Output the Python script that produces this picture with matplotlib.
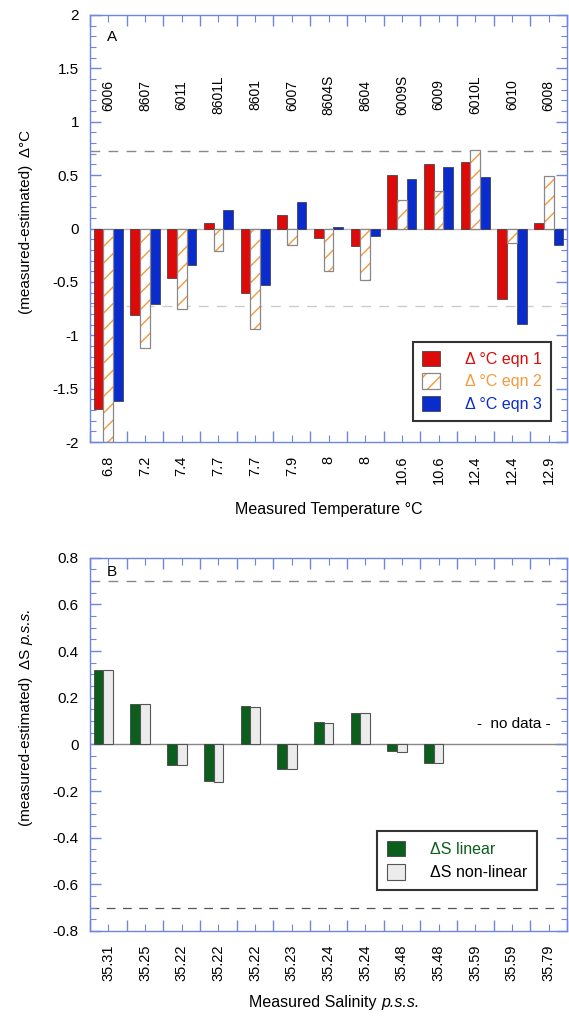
import numpy as np
import matplotlib
matplotlib.use("Agg")
import matplotlib.pyplot as plt
from matplotlib.ticker import MultipleLocator, FixedLocator, NullFormatter, FuncFormatter

plt.rcParams["font.family"] = ["Liberation Sans", "DejaVu Sans"]
plt.rcParams["hatch.linewidth"] = 1.0

# panel A data
stations = ["6006", "8607", "6011", "8601L", "8601", "6007", "8604S", "8604",
            "6009S", "6009", "6010L", "6010", "6008"]
temps = ["6.8", "7.2", "7.4", "7.7", "7.7", "7.9", "8", "8",
         "10.6", "10.6", "12.4", "12.4", "12.9"]
eqn1 = [-1.69, -0.81, -0.46, 0.05, -0.60, 0.125, -0.085, -0.16,
        0.50, 0.60, 0.625, -0.66, 0.055]
eqn2 = [-2.0, -1.115, -0.75, -0.21, -0.94, -0.155, -0.40, -0.485,
        0.265, 0.35, 0.74, -0.14, 0.49]
eqn3 = [-1.62, -0.71, -0.34, 0.17, -0.525, 0.25, 0.015, -0.07,
        0.46, 0.58, 0.485, -0.89, -0.155]

# panel B data
salinity = ["35.31", "35.25", "35.22", "35.22", "35.22", "35.23", "35.24",
            "35.24", "35.48", "35.48", "35.59", "35.59", "35.79"]
ds_linear = [0.32, 0.173, -0.09, -0.156, 0.164, -0.107, 0.094, 0.136,
             -0.027, -0.079, np.nan, np.nan, np.nan]
ds_nonlin = [0.32, 0.171, -0.09, -0.16, 0.161, -0.107, 0.091, 0.133,
             -0.032, -0.079, np.nan, np.nan, np.nan]

spine_col = "#6f86e0"
red = "#dd0a0a"
orange = "#f39a3c"
blue = "#0a2ccc"
green = "#0b5e1c"
lgray = "#ececec"

W, H = 569, 1019
fig = plt.figure(figsize=(W / 100, H / 100), dpi=100)

x = np.arange(len(stations)) + 0.5
bw = 0.265

# plain numbers like the original: 2, 1.5, -0.5
fmt = FuncFormatter(lambda v, pos: "%g" % round(v, 3) if abs(v) > 1e-9 else "0")


def style_axes(ax, ymaj, ymin):
    ax.set_xlim(0, len(stations))
    for s in ax.spines.values():
        s.set_color(spine_col)
        s.set_linewidth(1.0)
    ax.xaxis.set_major_locator(FixedLocator(np.arange(0, len(stations) + 1)))
    ax.xaxis.set_minor_locator(FixedLocator(x))
    ax.xaxis.set_major_formatter(NullFormatter())
    ax.yaxis.set_major_locator(MultipleLocator(ymaj))
    ax.yaxis.set_minor_locator(MultipleLocator(ymin))
    ax.yaxis.set_major_formatter(fmt)
    ax.tick_params(which="both", direction="in", top=True, right=True,
                   color=spine_col, labelsize=11)
    ax.tick_params(which="major", length=8, width=1)
    ax.tick_params(which="minor", length=4, width=0.8)
    ax.tick_params(axis="x", which="minor", length=5, labelsize=10.5,
                   labelrotation=90, pad=10)
    ax.tick_params(axis="y", pad=8)


# ---- panel A
ax1 = fig.add_axes([90 / W, (H - 442) / H, 477 / W, 427 / H])
ax1.set_ylim(-2, 2)
style_axes(ax1, 0.5, 0.1)
ax1.axhline(0, color="#bbbbbb", lw=1, zorder=1)
ax1.axhline(0.73, color="#888888", lw=1, ls=(0, (7, 6)), zorder=1)
ax1.axhline(-0.73, color="#cccccc", lw=1, ls=(0, (7, 6)), zorder=1)

b1 = ax1.bar(x - bw, eqn1, bw, color=red, edgecolor="#333333", lw=0.5, zorder=2)
b2h = ax1.bar(x, eqn2, bw, facecolor="white", edgecolor=orange, hatch="//",
              lw=0, zorder=2)
b2e = ax1.bar(x, eqn2, bw, fill=False, edgecolor="#888888", lw=0.9, zorder=3)
b3 = ax1.bar(x + bw, eqn3, bw, color=blue, edgecolor="#333333", lw=0.5, zorder=2)

ax1.set_xticks(x, minor=True)
ax1.set_xticklabels(temps, minor=True)
for xi, s in zip(x, stations):
    ax1.text(xi, 1.25, s, rotation=90, ha="center", va="center", fontsize=10)
ax1.text(0.45, 1.79, "A", fontsize=11, ha="left", va="center")

fig.text(26 / W, 1 - 222 / H, "(measured-estimated)  \u0394\u00b0C", fontsize=11,
         rotation=90, ha="center", va="center")
ax1.set_xlabel("Measured Temperature \u00b0C", fontsize=11.5, labelpad=13)

leg1 = ax1.legend([b1, (b2h, b2e), b3],
                  ["\u0394 \u00b0C eqn 1", "\u0394 \u00b0C eqn 2", "\u0394 \u00b0C eqn 3"],
                  loc="lower right", bbox_to_anchor=(0.966, 0.05), fontsize=11.5,
                  labelcolor=[red, orange, blue], frameon=True, fancybox=False,
                  handlelength=1.1, handleheight=1.1, handletextpad=1.6,
                  borderpad=0.55, labelspacing=0.4, borderaxespad=0)
leg1.get_frame().set_edgecolor("black")
leg1.get_frame().set_linewidth(1.5)

# ---- panel B
ax2 = fig.add_axes([90 / W, (H - 931) / H, 477 / W, 373.3 / H])
ax2.set_ylim(-0.8, 0.8)
style_axes(ax2, 0.2, 0.05)
ax2.axhline(0, color="#888888", lw=1, zorder=1)
ax2.axhline(0.7, color="#888888", lw=1, ls=(0, (7, 6)), zorder=1)
ax2.axhline(-0.7, color="#555555", lw=0.9, ls=(0, (7, 6)), zorder=1)

g1 = ax2.bar(x - bw, ds_linear, bw, color=green, edgecolor="#444444", lw=0.6, zorder=2)
g2 = ax2.bar(x, ds_nonlin, bw, color=lgray, edgecolor="#555555", lw=0.8, zorder=2)

ax2.set_xticks(x, minor=True)
ax2.set_xticklabels(salinity, minor=True)
ax2.text(0.45, 0.74, "B", fontsize=11, ha="left", va="center")
ax2.text(11.55, 0.086, "-  no data -", fontsize=11, ha="center", va="center")

# labels with an italic unit part, built from two texts
fig.text(26 / W, 1 - 645 / H, "(measured-estimated)  \u0394S ", fontsize=11,
         rotation=90, ha="center", va="top")
fig.text(26 / W, 1 - 645 / H, "p.s.s.", fontsize=11, fontstyle="italic",
         rotation=90, ha="center", va="bottom")
fig.text(381 / W, 1 - 1003 / H, "Measured Salinity ", fontsize=11.5,
         ha="right", va="center")
fig.text(381 / W, 1 - 1003 / H, "p.s.s.", fontsize=11.5, fontstyle="italic",
         ha="left", va="center")

leg2 = ax2.legend([g1, g2], ["\u0394S linear", "\u0394S non-linear"],
                  loc="lower right", bbox_to_anchor=(0.937, 0.11), fontsize=11.5,
                  labelcolor=[green, "black"], frameon=True, fancybox=False,
                  handlelength=1.1, handleheight=1.1, handletextpad=1.6,
                  borderpad=0.6, labelspacing=0.45, borderaxespad=0)
leg2.get_frame().set_edgecolor("black")
leg2.get_frame().set_linewidth(1.5)

fig.savefig("out.png", dpi=100)
